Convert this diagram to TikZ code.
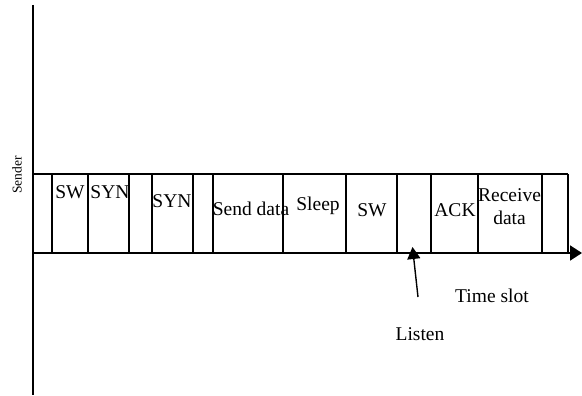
\documentclass[tikz,border=0pt]{standalone}
\usepackage{fontspec}
\setmainfont{Liberation Serif}
\usetikzlibrary{arrows.meta}
\begin{document}
\begin{tikzpicture}[x=1pt,y=-1pt,
  axis/.style={line width=1.8pt},
  div/.style={line width=1.4pt},
  lbl/.style={font=\fontsize{19.5}{21}\selectfont, anchor=base, inner sep=0pt}]
\useasboundingbox (0,0) rectangle (582,396);
% vertical axis
\coordinate (vtop) at (33,5);
\coordinate (vbot) at (33,395);
\draw[axis] (vtop) -- (vbot);
% timeline
\coordinate (tl0) at (33,253);
\coordinate (tl1) at (582,253);
\draw[axis,-{Triangle[length=12pt,width=15pt]}] (tl0) -- (tl1);
% top line
\coordinate (tp0) at (33,174);
\coordinate (tp1) at (568,174);
\draw[div] (tp0) -- (tp1);
% dividers
\foreach \x in {52,88,129,152,193,213,283,346,397,431,478,542,568}
  \draw[div] (\x,174) -- (\x,253);
% labels
\node[lbl] (sw1) at (70,199) {SW};
\node[lbl] (syn1) at (110,199) {SYN};
\node[lbl] (syn2) at (172,207.5) {SYN};
\node[lbl] (send) at (251,215) {Send data};
\node[lbl] (sleep) at (318,210.5) {Sleep};
\node[lbl] (sw2) at (372,216.5) {SW};
\node[lbl] (ack) at (455,216) {ACK};
\node[lbl] (recv) at (509.5,201.5) {Receive};
\node[lbl] (recv2) at (509.5,224) {data};
\node[font=\fontsize{13.5}{15}\selectfont, rotate=90, inner sep=0pt] (sender) at (17,175) {Sender};
\node[lbl] (slot) at (492,302.5) {Time slot};
\node[lbl] (listen) at (420,340) {Listen};
% listen arrow
\coordinate (ltail) at (418,297);
\coordinate (lhead) at (412.5,247);
\draw[line width=1.4pt,-{Triangle[length=12pt,width=13pt]}] (ltail) -- (lhead);
\end{tikzpicture}
\end{document}
